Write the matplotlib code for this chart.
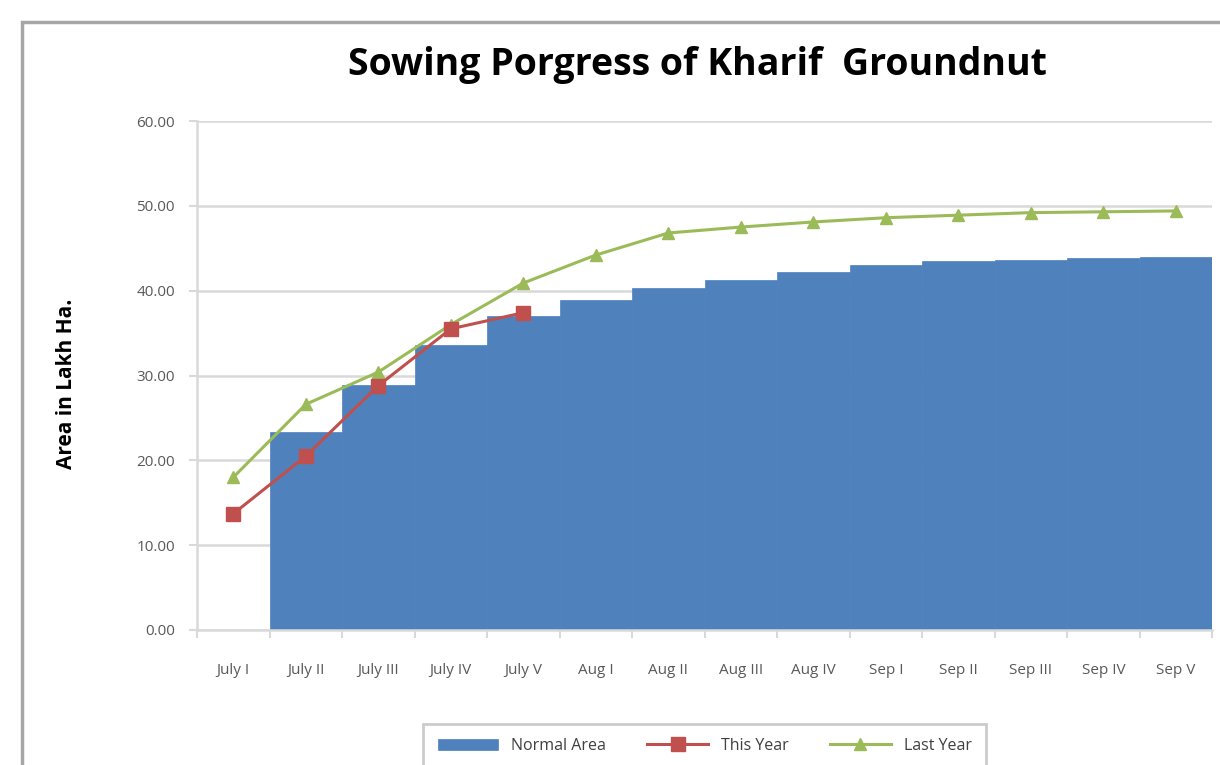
import matplotlib
matplotlib.use("Agg")
import matplotlib.pyplot as plt
from matplotlib.patches import Rectangle

# data
weeks = ['July I', 'July II', 'July III', 'July IV', 'July V', 'Aug I', 'Aug II',
         'Aug III', 'Aug IV', 'Sep I', 'Sep II', 'Sep III', 'Sep IV', 'Sep V']
normal_area = [0, 23.3, 28.9, 33.6, 37.0, 38.9, 40.3, 41.3, 42.2, 43.0, 43.5, 43.6, 43.9, 44.0]
this_year = [13.7, 20.5, 28.8, 35.5, 37.4]
last_year = [18.0, 26.6, 30.4, 36.0, 40.9, 44.2, 46.8, 47.5, 48.1, 48.6, 48.9, 49.2, 49.3, 49.4]


def draw_chart():
    plt.rcParams['font.family'] = ['Open Sans', 'DejaVu Sans']
    fig = plt.figure(figsize=(12.2, 7.65), dpi=100)
    ax = fig.add_axes([0.1615, 0.1765, 0.832, 0.6653])

    # chart frame
    fig.patches.append(Rectangle((22 / 1220, -0.1), 1.2, 1 - 22 / 765 + 0.1,
                                 transform=fig.transFigure, fill=False,
                                 edgecolor='#a6a6a6', linewidth=2.5))

    x = list(range(len(weeks)))
    bars = ax.bar(x, normal_area, width=1.0, color='#4F81BD', edgecolor='#4F81BD',
                  linewidth=0.5, label='Normal Area', zorder=2)
    l1, = ax.plot(x[:len(this_year)], this_year, color='#C0504D', marker='s',
                  markersize=10, linewidth=2.2, label='This Year', zorder=4)
    l2, = ax.plot(x, last_year, color='#9BBB59', marker='^', markersize=9,
                  linewidth=2.2, label='Last Year', zorder=3)

    ax.set_xlim(-0.5, len(weeks) - 0.5)
    ax.set_ylim(0, 60)
    ax.set_yticks(range(0, 61, 10))
    ax.set_yticklabels(['%.2f' % v for v in range(0, 61, 10)])
    ax.set_xticks(x)
    ax.set_xticklabels(weeks)
    ax.set_xticks([i - 0.5 for i in range(len(weeks) + 1)], minor=True)
    ax.tick_params(axis='x', which='major', length=0, pad=24, labelsize=11, colors='#595959')
    ax.tick_params(axis='x', which='minor', length=6, color='#d9d9d9', width=1.5)
    ax.tick_params(axis='y', length=6, color='#d9d9d9', width=1.5, labelsize=11,
                   colors='#595959', pad=10)

    ax.grid(axis='y', color='#d9d9d9', linewidth=1.8, zorder=0)
    ax.set_axisbelow(True)
    for s in ['top', 'right']:
        ax.spines[s].set_visible(False)
    for s in ['left', 'bottom']:
        ax.spines[s].set_color('#d9d9d9')
        ax.spines[s].set_linewidth(1.8)

    ax.set_ylabel('Area in Lakh Ha.', fontsize=15, fontweight='bold')
    ax.yaxis.set_label_coords(-0.118, 0.483)
    fig.text(0.572, 0.915, 'Sowing Porgress of Kharif  Groundnut', ha='center',
             va='center', fontsize=27, fontweight='bold')

    leg = ax.legend([bars, l1, l2], ['Normal Area', 'This Year', 'Last Year'],
                    loc='center', bbox_to_anchor=(0.5, -0.228), ncol=3,
                    frameon=True, fancybox=False, edgecolor='#bfbfbf',
                    fontsize=11.5, handlelength=3.8, columnspacing=2.6,
                    borderpad=0.9)
    leg.get_frame().set_linewidth(2)
    for t in leg.get_texts():
        t.set_color('#404040')

    fig.savefig('out.png', dpi=100)


if __name__ == "__main__":
    draw_chart()
